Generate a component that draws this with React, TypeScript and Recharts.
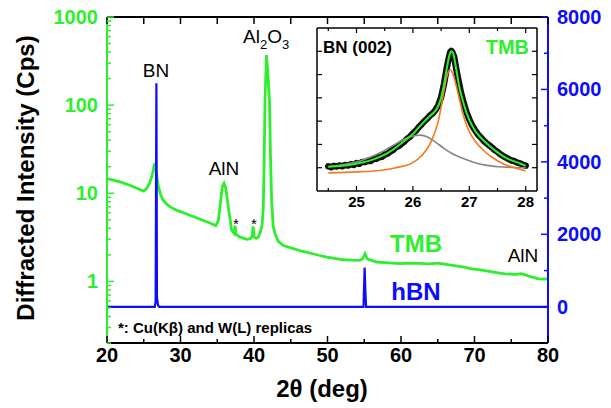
import React from 'react';
import { ComposedChart, LineChart, Line, XAxis, YAxis } from 'recharts';

const GREEN = '#2def2d';
const BLUE = '#0c0cff';
const ORANGE = '#f5791f';
const GRAY = '#858585';
const FONT = '"Liberation Sans", Arial, Helvetica, sans-serif';

// ---- main chart data: [2theta (deg), value] ----
const tmbPoints: number[][] = [
  [20, 14.7], [21, 14.0], [22, 13.3], [23, 12.4], [24, 11.5], [24.6, 10.9], [25, 10.6],
  [25.4, 11.4], [25.8, 13.0], [26.1, 15.5], [26.3, 18.5], [26.45, 21.8], [26.6, 19.5],
  [26.75, 16], [26.9, 13.2], [27.0, 11.8], [27.3, 9.6], [27.66, 8.3], [28.0, 7.7],
  [28.5, 7.1], [29.0, 6.7], [29.5, 6.4], [30, 6.2], [31, 5.75], [32, 5.35], [33, 4.95],
  [34, 4.6], [34.8, 4.3], [35.15, 4.9], [35.47, 8.3], [35.7, 12], [35.92, 13],
  [36.15, 11.5], [36.5, 7], [36.96, 3.8], [37.3, 3.5], [37.42, 4.3], [37.55, 3.45],
  [38.0, 3.2], [38.55, 3.1], [39.0, 3.0], [39.5, 3.05], [39.75, 3.3], [39.88, 4.2],
  [40.0, 3.2], [40.3, 3.08], [40.6, 3.2], [40.9, 3.7], [41.1, 4.4], [41.25, 6.5],
  [41.35, 15], [41.5, 114], [41.7, 370], [41.9, 220], [42.1, 114], [42.25, 25],
  [42.4, 8.3], [42.6, 4.3], [42.9, 3.4], [43.3, 2.85], [44, 2.55], [45.35, 2.35],
  [46.5, 2.2], [47.6, 2.1], [48.8, 1.98], [49.9, 1.89], [51, 1.82], [52.15, 1.76],
  [53.3, 1.74], [54.4, 1.73], [54.8, 1.82], [55.1, 2.06], [55.4, 1.8], [56.7, 1.66],
  [58.3, 1.62], [59.9, 1.59], [61.2, 1.61], [62.5, 1.6], [63.8, 1.58], [65.1, 1.61],
  [66.3, 1.55], [67.5, 1.5], [68.6, 1.45], [69.6, 1.39], [70.8, 1.35], [72, 1.3],
  [73, 1.26], [74.15, 1.22], [75.5, 1.2], [76.4, 1.22], [77.5, 1.14], [78.7, 1.07],
  [79.4, 1.06], [80, 1.07],
];

const hbnPoints: number[][] = [
  [20, 0], [26.5, 0], [26.62, 150], [26.72, 6170], [26.8, 250], [26.95, 40], [27.1, 0],
  [54.9, 0], [55.05, 1080], [55.15, 450], [55.25, 0], [80, 0],
];

const xTicks = [20, 25, 30, 35, 40, 45, 50, 55, 60, 65, 70, 75, 80];
const logTicks = [
  0.2, 0.3, 0.4, 0.5, 0.6, 0.7, 0.8, 0.9, 1, 2, 3, 4, 5, 6, 7, 8, 9, 10,
  20, 30, 40, 50, 60, 70, 80, 90, 100, 200, 300, 400, 500, 600, 700, 800, 900, 1000,
];
const linTicks = [0, 1000, 2000, 3000, 4000, 5000, 6000, 7000, 8000];

// ---- inset data: BN (002) ----
const insetMeasured: number[][] = [
  [24.5, 1.06], [24.55, 1.02], [24.6, 1.08], [24.65, 1.05], [24.7, 1.1], [24.75, 1.06],
  [24.8, 1.12], [24.85, 1.09], [24.9, 1.15], [24.95, 1.12], [25.0, 1.2], [25.05, 1.17],
  [25.1, 1.25], [25.15, 1.24], [25.2, 1.3], [25.25, 1.29], [25.3, 1.37], [25.35, 1.38],
  [25.4, 1.45], [25.45, 1.47], [25.5, 1.56], [25.55, 1.6], [25.6, 1.7], [25.65, 1.76],
  [25.7, 1.88], [25.75, 1.93], [25.8, 2.04], [25.85, 2.12], [25.9, 2.25], [25.95, 2.33],
  [26.0, 2.47], [26.05, 2.58], [26.1, 2.73], [26.15, 2.85], [26.2, 2.99], [26.25, 3.1],
  [26.3, 3.24], [26.35, 3.33], [26.4, 3.48], [26.45, 3.68], [26.5, 4.02], [26.55, 4.58],
  [26.6, 5.28], [26.63, 5.65], [26.66, 5.95], [26.68, 6.02], [26.7, 5.95], [26.73, 5.78],
  [26.77, 5.22], [26.8, 4.85], [26.85, 4.25], [26.9, 3.78], [26.95, 3.38], [27.0, 3.08],
  [27.05, 2.82], [27.1, 2.62], [27.15, 2.44], [27.2, 2.31], [27.25, 2.17], [27.3, 2.06],
  [27.35, 1.97], [27.4, 1.87], [27.45, 1.76], [27.5, 1.68], [27.55, 1.58], [27.6, 1.5],
  [27.65, 1.44], [27.7, 1.37], [27.75, 1.31], [27.8, 1.28], [27.85, 1.22], [27.9, 1.19],
  [27.95, 1.12], [28.0, 1.09],
];
const insetFit: number[][] = [
  [24.5, 1.04], [24.7, 1.07], [24.9, 1.13], [25.1, 1.22], [25.3, 1.36], [25.5, 1.56],
  [25.7, 1.87], [25.9, 2.25], [26.0, 2.45], [26.1, 2.72], [26.2, 2.98], [26.3, 3.22],
  [26.4, 3.45], [26.45, 3.65], [26.5, 4.0], [26.55, 4.55], [26.6, 5.25], [26.65, 5.85],
  [26.68, 6.0], [26.72, 5.85], [26.77, 5.2], [26.82, 4.5], [26.9, 3.75], [27.0, 3.05],
  [27.1, 2.6], [27.2, 2.3], [27.35, 1.95], [27.5, 1.66], [27.65, 1.42], [27.8, 1.27],
  [27.9, 1.18], [28.0, 1.08],
];
const insetNarrow: number[][] = [
  [24.5, 0.78], [25.0, 0.82], [25.4, 0.88], [25.7, 1.0], [26.0, 1.22], [26.15, 1.5],
  [26.3, 2.0], [26.4, 2.6], [26.45, 3.0], [26.5, 3.6], [26.55, 4.3], [26.6, 4.9],
  [26.66, 5.22], [26.72, 4.95], [26.8, 4.2], [26.9, 3.2], [27.0, 2.55], [27.1, 2.15],
  [27.25, 1.75], [27.4, 1.45], [27.6, 1.17], [27.8, 1.0], [28.0, 0.87],
];
const insetBroad: number[][] = [
  [24.5, 1.04], [24.8, 1.15], [25.1, 1.32], [25.4, 1.62], [25.65, 1.96], [25.9, 2.28],
  [26.05, 2.38], [26.14, 2.4], [26.25, 2.33], [26.4, 2.1], [26.55, 1.83], [26.7, 1.6],
  [26.86, 1.43], [27.0, 1.3], [27.16, 1.17], [27.35, 1.09], [27.52, 1.04], [27.8, 1.01],
  [28.0, 1.0],
];
const insetXTicks = [24.5, 25, 25.5, 26, 26.5, 27, 27.5, 28];
const insetYTicks = [1, 2, 3, 4, 5, 6];

const toRows = (pts: number[][]) => pts.map(([x, y]) => ({ x, y }));

const isMajorLog = (v: number) => {
  const l = Math.log10(v);
  return Math.abs(l - Math.round(l)) < 1e-6;
};

const LeftTick = (p: any) => {
  const v = p.payload.value;
  const major = isMajorLog(v);
  return (
    <g>
      <line x1={p.x} y1={p.y} x2={p.x + (major ? 7 : 4)} y2={p.y} stroke={GREEN} strokeWidth={1.5} />
      {major && (
        <text x={p.x - 9} y={p.y + 7} textAnchor="end" fill={GREEN} fontSize={20} fontWeight="bold" fontFamily={FONT}>
          {v}
        </text>
      )}
    </g>
  );
};

const RightTick = (p: any) => {
  const v = p.payload.value;
  const major = v % 2000 === 0;
  return (
    <g>
      <line x1={p.x} y1={p.y} x2={p.x - (major ? 7 : 4)} y2={p.y} stroke={BLUE} strokeWidth={1.5} />
      {major && (
        <text x={p.x + 9} y={p.y + 7} textAnchor="start" fill={BLUE} fontSize={20} fontWeight="bold" fontFamily={FONT}>
          {v}
        </text>
      )}
    </g>
  );
};

const BottomTick = (p: any) => {
  const v = p.payload.value;
  const major = v % 10 === 0;
  return (
    <g>
      <line x1={p.x} y1={p.y} x2={p.x} y2={p.y - (major ? 7 : 4)} stroke="#000" strokeWidth={1.5} />
      {major && (
        <text x={p.x} y={p.y + 19} textAnchor="middle" fill="#000" fontSize={20} fontWeight="bold" fontFamily={FONT}>
          {v}
        </text>
      )}
    </g>
  );
};

const TopTick = (p: any) => (
  <line x1={p.x} y1={p.y} x2={p.x} y2={p.y + 7} stroke="#000" strokeWidth={1.5} />
);

const InsetBottomTick = (p: any) => {
  const v = p.payload.value;
  const major = Number.isInteger(v);
  return (
    <g>
      <line x1={p.x} y1={p.y} x2={p.x} y2={p.y - (major ? 5 : 3)} stroke="#000" strokeWidth={1.2} />
      {major && (
        <text x={p.x} y={p.y + 16} textAnchor="middle" fill="#000" fontSize={15} fontWeight="bold" fontFamily={FONT}>
          {v}
        </text>
      )}
    </g>
  );
};
const InsetTopTick = (p: any) => {
  const major = Number.isInteger(p.payload.value);
  return <line x1={p.x} y1={p.y} x2={p.x} y2={p.y + (major ? 5 : 3)} stroke="#000" strokeWidth={1.2} />;
};
const InsetLeftTick = (p: any) => (
  <line x1={p.x} y1={p.y} x2={p.x + 5} y2={p.y} stroke="#000" strokeWidth={1.2} />
);
const InsetRightTick = (p: any) => (
  <line x1={p.x} y1={p.y} x2={p.x - 5} y2={p.y} stroke="#000" strokeWidth={1.2} />
);

export default function App() {
  return (
    <div style={{ position: 'relative', width: 611, height: 408, background: '#fff', fontFamily: FONT }}>
      <style>{`body{margin:0;background:#fff}`}</style>
      <ComposedChart width={611} height={408} margin={{ top: 2, right: 3, bottom: 25, left: 47 }}>
        <XAxis
          xAxisId="b" type="number" dataKey="x" domain={[20, 80]} allowDataOverflow
          ticks={xTicks} interval={0} height={40} tickSize={0} tickMargin={0} tickLine={false}
          axisLine={{ stroke: '#000', strokeWidth: 2 }} tick={(p: any) => <BottomTick {...p} />}
        />
        <XAxis
          xAxisId="t" orientation="top" type="number" dataKey="x" domain={[20, 80]} allowDataOverflow
          ticks={xTicks} interval={0} height={15} tickSize={0} tickMargin={0} tickLine={false}
          axisLine={{ stroke: '#000', strokeWidth: 2 }} tick={(p: any) => <TopTick {...p} />}
        />
        <YAxis
          yAxisId="log" type="number" scale="log" domain={[0.2, 1000]} allowDataOverflow
          ticks={logTicks} interval={0} width={60} tickSize={0} tickMargin={0} tickLine={false}
          axisLine={{ stroke: GREEN, strokeWidth: 2 }} tick={(p: any) => <LeftTick {...p} />}
        />
        <YAxis
          yAxisId="lin" orientation="right" type="number" domain={[-1000, 8000]} allowDataOverflow
          ticks={linTicks} interval={0} width={60} tickSize={0} tickMargin={0} tickLine={false}
          axisLine={{ stroke: BLUE, strokeWidth: 2 }} tick={(p: any) => <RightTick {...p} />}
        />
        <Line
          xAxisId="b" yAxisId="log" data={toRows(tmbPoints)} dataKey="y" type="linear"
          stroke={GREEN} strokeWidth={2.8} dot={false} isAnimationActive={false}
        />
        <Line
          xAxisId="t" yAxisId="lin" data={toRows(hbnPoints)} dataKey="y" type="linear"
          stroke={BLUE} strokeWidth={2.2} dot={false} isAnimationActive={false}
        />
      </ComposedChart>

      <div style={{ position: 'absolute', left: 297, top: 18 }}>
        <LineChart width={260} height={198} margin={{ top: 0, right: 0, bottom: 0, left: 0 }}>
          <XAxis
            xAxisId="b" type="number" dataKey="x" domain={[24.3, 28.2]} allowDataOverflow
            ticks={insetXTicks} interval={0} height={25} tickSize={0} tickMargin={0} tickLine={false}
            axisLine={{ stroke: '#000', strokeWidth: 1.5 }} tick={(p: any) => <InsetBottomTick {...p} />}
          />
          <XAxis
            xAxisId="t" orientation="top" type="number" dataKey="x" domain={[24.3, 28.2]} allowDataOverflow
            ticks={insetXTicks} interval={0} height={10} tickSize={0} tickMargin={0} tickLine={false}
            axisLine={{ stroke: '#000', strokeWidth: 1.5 }} tick={(p: any) => <InsetTopTick {...p} />}
          />
          <YAxis
            yAxisId="l" type="number" domain={[0, 7]} allowDataOverflow ticks={insetYTicks} interval={0}
            width={20} tickSize={0} tickMargin={0} tickLine={false}
            axisLine={{ stroke: '#000', strokeWidth: 1.5 }} tick={(p: any) => <InsetLeftTick {...p} />}
          />
          <YAxis
            yAxisId="r" orientation="right" type="number" domain={[0, 7]} allowDataOverflow ticks={insetYTicks}
            interval={0} width={20} tickSize={0} tickMargin={0} tickLine={false}
            axisLine={{ stroke: '#000', strokeWidth: 1.5 }} tick={(p: any) => <InsetRightTick {...p} />}
          />
          <Line
            xAxisId="b" yAxisId="l" data={toRows(insetMeasured)} dataKey="y" type="linear"
            stroke="#111" strokeWidth={6.5} strokeLinecap="round" strokeLinejoin="round"
            dot={false} isAnimationActive={false}
          />
          <Line
            xAxisId="t" yAxisId="l" data={toRows(insetBroad)} dataKey="y" type="monotone"
            stroke={GRAY} strokeWidth={1.6} dot={false} isAnimationActive={false}
          />
          <Line
            xAxisId="b" yAxisId="r" data={toRows(insetNarrow)} dataKey="y" type="monotone"
            stroke={ORANGE} strokeWidth={1.6} dot={false} isAnimationActive={false}
          />
          <Line
            xAxisId="t" yAxisId="r" data={toRows(insetFit)} dataKey="y" type="monotone"
            stroke={GREEN} strokeWidth={2} dot={false} isAnimationActive={false}
          />
        </LineChart>
      </div>

      <svg width={611} height={408} style={{ position: 'absolute', left: 0, top: 0, pointerEvents: 'none' }}>
        <g fontFamily={FONT}>
          <text x={156} y={77} textAnchor="middle" fontSize={19} fill="#000">BN</text>
          <text x={224} y={175} textAnchor="middle" fontSize={19} fill="#000">AlN</text>
          <text x={243} y={43} fontSize={19} fill="#000">
            Al<tspan fontSize={13} dy={6}>2</tspan><tspan dy={-6}>O</tspan><tspan fontSize={13} dy={6}>3</tspan>
          </text>
          <text x={236} y={229} textAnchor="middle" fontSize={15} fill="#000">*</text>
          <text x={254} y={229} textAnchor="middle" fontSize={15} fill="#000">*</text>
          <text x={416} y={252} textAnchor="middle" fontSize={24} fontWeight="bold" fill={GREEN}>TMB</text>
          <text x={416} y={300} textAnchor="middle" fontSize={24} fontWeight="bold" fill={BLUE}>hBN</text>
          <text x={523} y={262} textAnchor="middle" fontSize={19} fill="#000">AlN</text>
          <text x={118} y={333} fontSize={15} fontWeight="bold" fill="#000">*: Cu(Kβ) and W(L) replicas</text>
          <text x={322} y={397} textAnchor="middle" fontSize={24} fontWeight="bold" fill="#000">2θ (deg)</text>
          <text transform="translate(34,178) rotate(-90)" textAnchor="middle" fontSize={24} fontWeight="bold" fill="#000">
            Diffracted Intensity (Cps)
          </text>
          <text x={323} y={53} fontSize={17} fontWeight="bold" fill="#000">BN (002)</text>
          <text x={529} y={54} textAnchor="end" fontSize={20} fontWeight="bold" fill={GREEN}>TMB</text>
        </g>
      </svg>
    </div>
  );
}
